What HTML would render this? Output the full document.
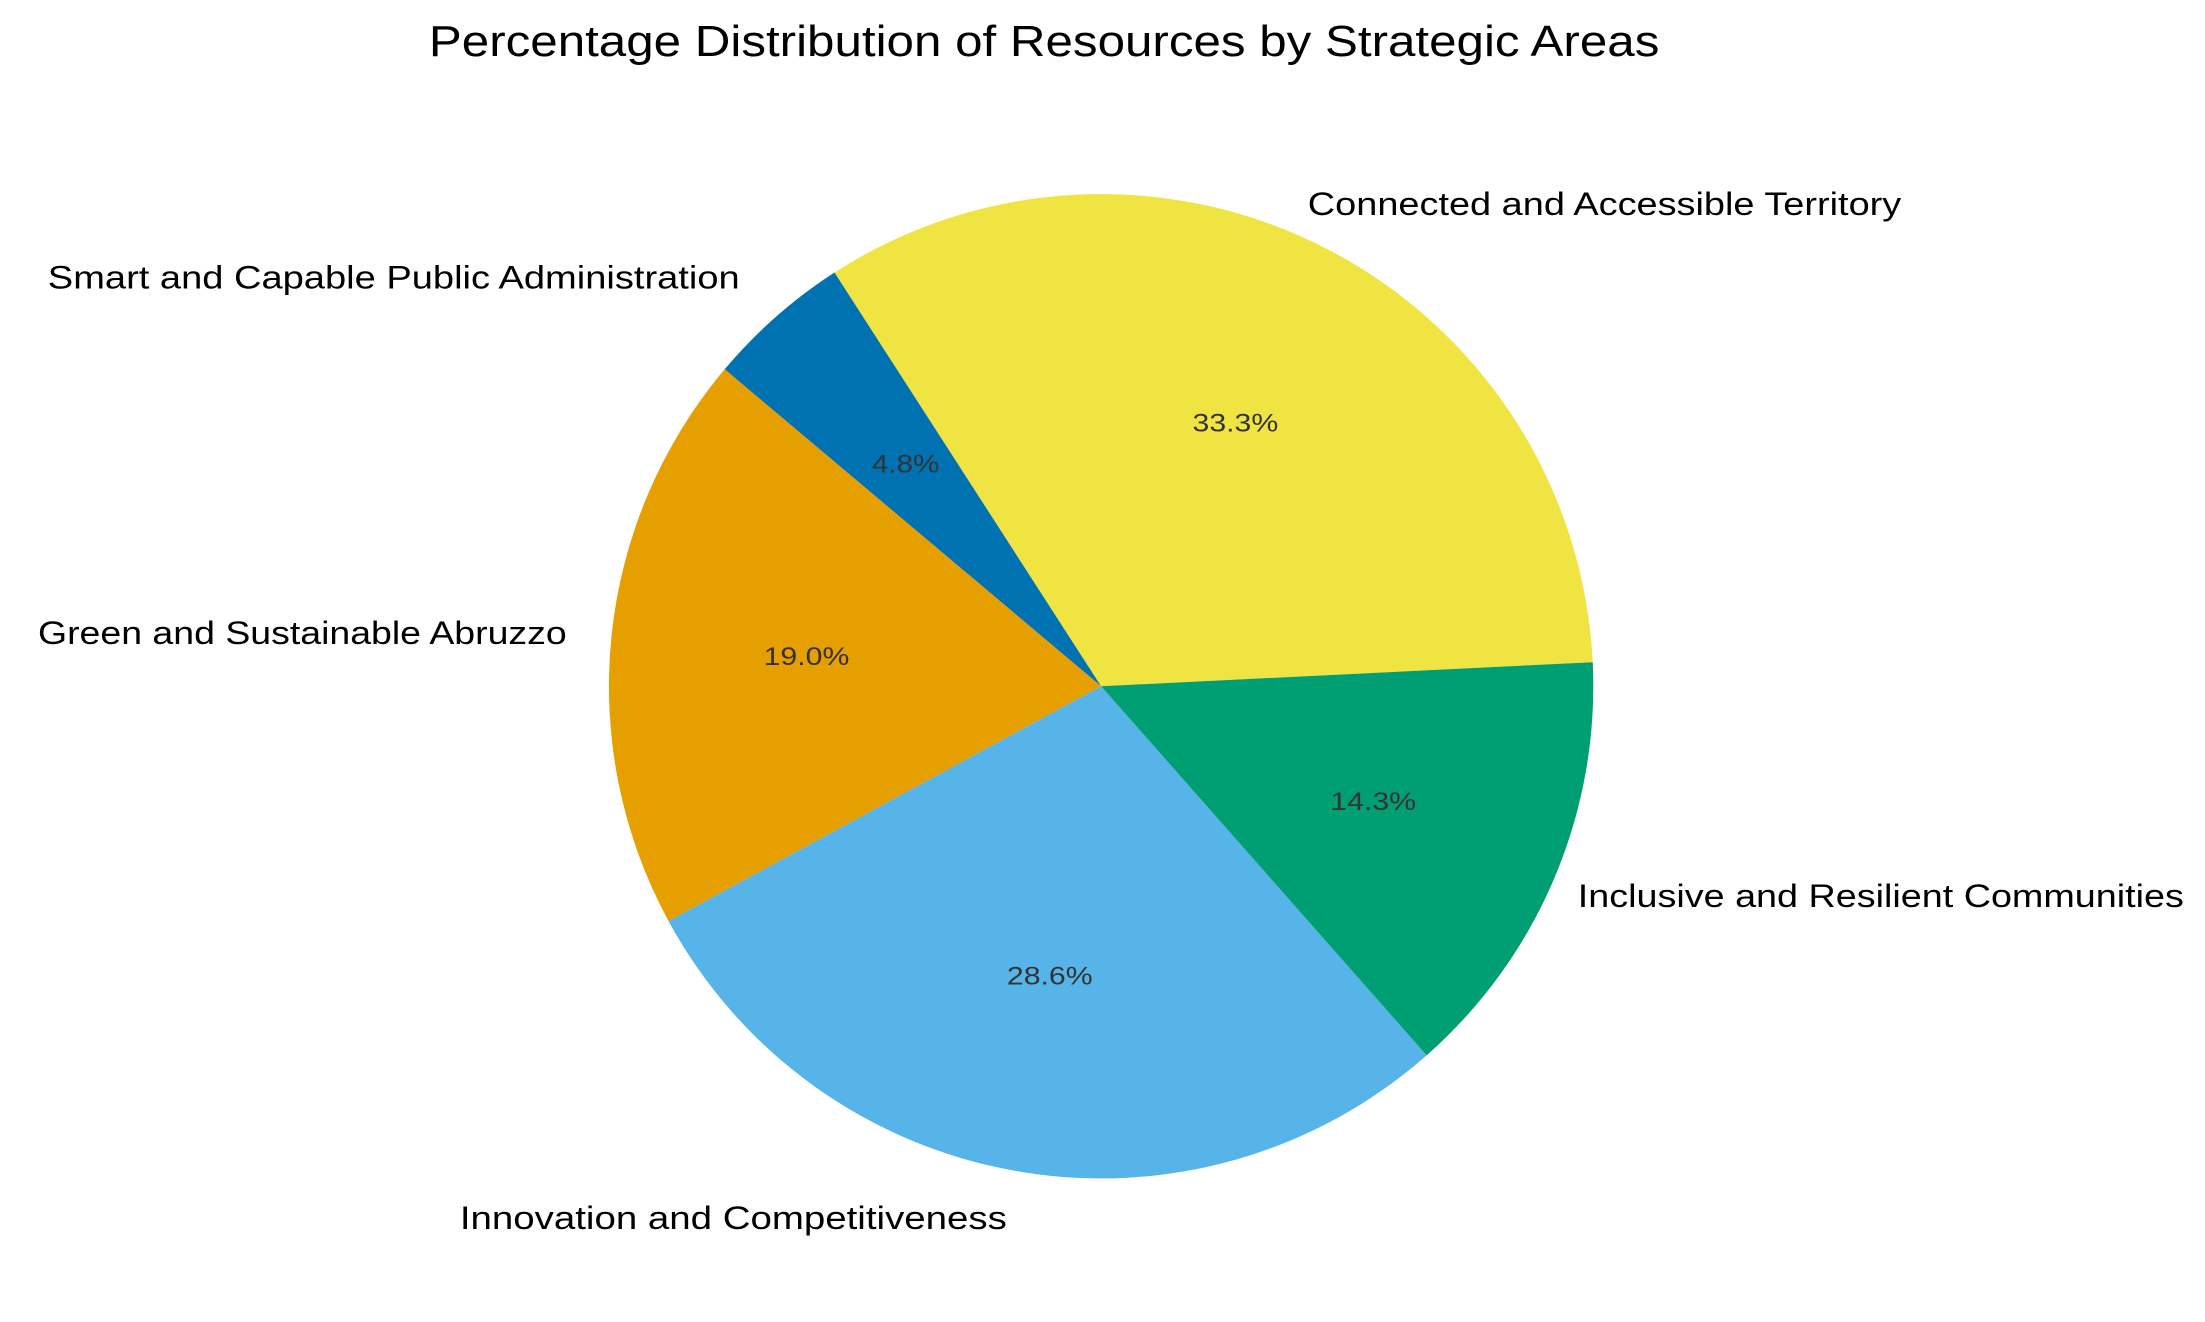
<!DOCTYPE html>
<html><head><meta charset="utf-8"><style>html,body{margin:0;padding:0;background:#fff;}svg{display:block}</style></head>
<body>
<svg width="2205" height="1322" viewBox="0 0 1568 940.1" xmlns="http://www.w3.org/2000/svg" font-family="Liberation Sans, DejaVu Sans, sans-serif">
<rect width="1568" height="941" fill="#fff"/>
<path d="M783,488 L1132.6,470.9 A350,350 0 0 0 593.4,193.8 Z" fill="#F0E442"/>
<path d="M783,488 L593.4,193.8 A350,350 0 0 0 515.3,262.6 Z" fill="#0072B2"/>
<path d="M783,488 L515.3,262.6 A350,350 0 0 0 475.4,655.0 Z" fill="#E69F00"/>
<path d="M783,488 L475.4,655.0 A350,350 0 0 0 1014.5,750.5 Z" fill="#56B4E9"/>
<path d="M783,488 L1014.5,750.5 A350,350 0 0 0 1132.6,470.9 Z" fill="#009E73"/>
<text x="305" y="40" font-size="31" textLength="875" lengthAdjust="spacingAndGlyphs" fill="#000">Percentage Distribution of Resources by Strategic Areas</text>
<g font-size="23" fill="#000">
<text x="930" y="153" textLength="422" lengthAdjust="spacingAndGlyphs">Connected and Accessible Territory</text>
<text x="34" y="205" textLength="492" lengthAdjust="spacingAndGlyphs">Smart and Capable Public Administration</text>
<text x="27" y="458" textLength="376" lengthAdjust="spacingAndGlyphs">Green and Sustainable Abruzzo</text>
<text x="327" y="874" textLength="389" lengthAdjust="spacingAndGlyphs">Innovation and Competitiveness</text>
<text x="1122" y="645" textLength="431" lengthAdjust="spacingAndGlyphs">Inclusive and Resilient Communities</text>
</g>
<g font-size="18" fill="#333">
<text x="848" y="307" textLength="61" lengthAdjust="spacingAndGlyphs">33.3%</text>
<text x="620" y="336" textLength="48" lengthAdjust="spacingAndGlyphs">4.8%</text>
<text x="543" y="473" textLength="61" lengthAdjust="spacingAndGlyphs">19.0%</text>
<text x="946" y="576" textLength="61" lengthAdjust="spacingAndGlyphs">14.3%</text>
<text x="716" y="700" textLength="61" lengthAdjust="spacingAndGlyphs">28.6%</text>
</g>
</svg>
</body></html>
